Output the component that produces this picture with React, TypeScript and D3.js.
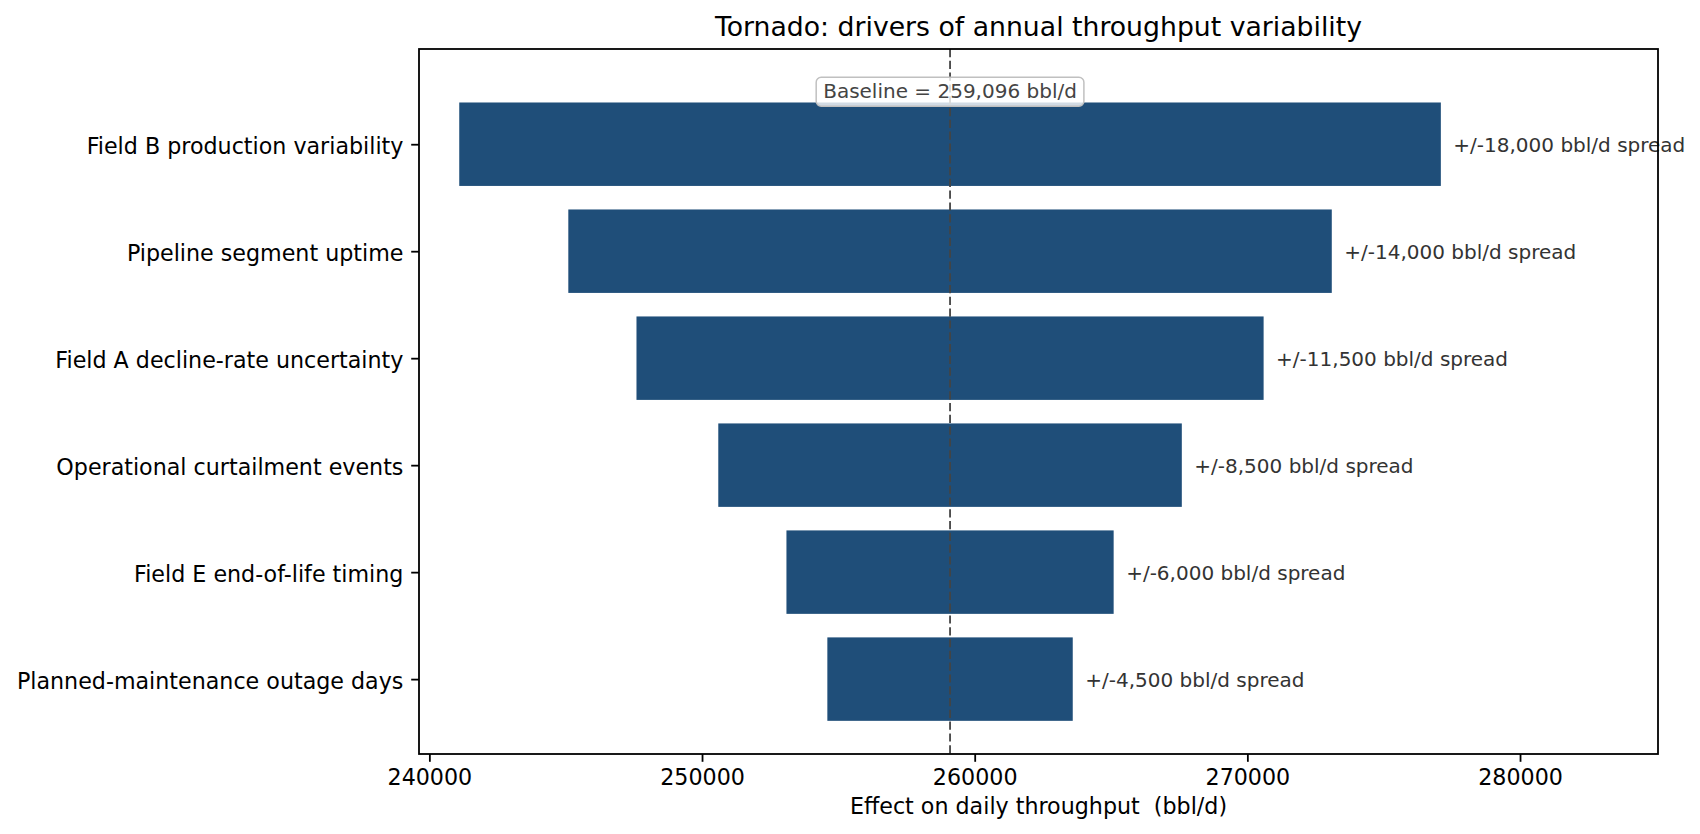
import React, { useEffect, useRef } from 'react';
import * as d3 from 'd3';

const drivers = [
  'Field B production variability',
  'Pipeline segment uptime',
  'Field A decline-rate uncertainty',
  'Operational curtailment events',
  'Field E end-of-life timing',
  'Planned-maintenance outage days',
];
const baseline = 259096;
const lowValues = [241096, 245096, 247596, 250596, 253096, 254596];
const highValues = [277096, 273096, 270596, 267596, 265096, 263596];
const spreads = [18000, 14000, 11500, 8500, 6000, 4500];
const xTicks = [240000, 250000, 260000, 270000, 280000];

const W = 1700;
const H = 834;
const FONT = '"DejaVu Sans", sans-serif';

const App: React.FC = () => {
  const svgRef = useRef<SVGSVGElement>(null);

  useEffect(() => {
    if (!svgRef.current) return;
    const svg = d3.select(svgRef.current);
    svg.selectAll('*').remove();

    const left = 419, right = 1658, top = 49, bottom = 754;

    const x = d3.scaleLinear().domain([239620, 285060]).range([left, right]);
    // rows 0..5 top to bottom, with extra room above for the baseline label
    const y = d3.scaleLinear().domain([-0.89, 5.7]).range([top, bottom]);
    const barH = y(0.78) - y(0);

    const data = drivers.map((name, i) => ({
      name, i, lo: lowValues[i], hi: highValues[i], spread: spreads[i],
    }));

    // Bars
    svg.append('g')
      .selectAll('rect')
      .data(data)
      .enter()
      .append('rect')
      .attr('x', d => x(d.lo))
      .attr('width', d => x(d.hi) - x(d.lo))
      .attr('y', d => y(d.i) - barH / 2)
      .attr('height', barH)
      .attr('fill', '#1f4e79');

    // Spread labels
    svg.append('g')
      .selectAll('text')
      .data(data)
      .enter()
      .append('text')
      .attr('x', d => x(d.hi) + 12.5)
      .attr('y', d => y(d.i) + 8)
      .attr('font-family', FONT)
      .attr('font-size', 20)
      .attr('fill', '#333333')
      .text(d => `+/-${d3.format(',')(d.spread)} bbl/d spread`);

    // Baseline dashed line
    svg.append('line')
      .attr('x1', x(baseline)).attr('x2', x(baseline))
      .attr('y1', top).attr('y2', bottom)
      .attr('stroke', '#444444')
      .attr('stroke-width', 1.8)
      .attr('stroke-dasharray', '8.2 3.6');

    // Baseline label box
    const by = y(-0.5) + 7.5;
    const label = svg.append('g');
    const bt = label.append('text')
      .attr('x', x(baseline))
      .attr('y', by)
      .attr('text-anchor', 'middle')
      .attr('font-family', FONT)
      .attr('font-size', 20)
      .attr('fill', '#444444')
      .text(`Baseline = ${d3.format(',')(baseline)} bbl/d`);
    const bb = (bt.node() as SVGTextElement).getBBox();
    label.insert('rect', 'text')
      .attr('x', bb.x - 7)
      .attr('width', bb.width + 14)
      .attr('y', by - 21)
      .attr('height', 29)
      .attr('rx', 5)
      .attr('fill', 'white')
      .attr('fill-opacity', 0.8)
      .attr('stroke', '#c0c0c0')
      .attr('stroke-width', 1.5);

    // Axes frame
    svg.append('rect')
      .attr('x', left).attr('y', top)
      .attr('width', right - left).attr('height', bottom - top)
      .attr('fill', 'none')
      .attr('stroke', '#000')
      .attr('stroke-width', 1.8);

    // X axis
    const xg = svg.append('g').attr('transform', `translate(0,${bottom})`);
    xg.call(d3.axisBottom(x).tickValues(xTicks).tickFormat(d3.format('d')).tickSize(7.8).tickPadding(7.8));
    xg.select('.domain').remove();
    xg.selectAll('line').attr('stroke', '#000').attr('stroke-width', 1.8);
    xg.selectAll('text')
      .attr('font-family', FONT)
      .attr('font-size', 22.2)
      .attr('fill', '#000');

    // Y axis
    const yg = svg.append('g').attr('transform', `translate(${left},0)`);
    yg.call(d3.axisLeft(y).tickValues(d3.range(drivers.length)).tickFormat(i => drivers[+i]).tickSize(7.8).tickPadding(7.8));
    yg.select('.domain').remove();
    yg.selectAll('line').attr('stroke', '#000').attr('stroke-width', 1.8);
    yg.selectAll('text')
      .attr('font-family', FONT)
      .attr('font-size', 22.2)
      .attr('dy', '0.42em')
      .attr('fill', '#000');

    // Title and x label
    svg.append('text')
      .attr('x', (left + right) / 2)
      .attr('y', 36)
      .attr('text-anchor', 'middle')
      .attr('font-family', FONT)
      .attr('font-size', 26.7)
      .attr('fill', '#000')
      .text('Tornado: drivers of annual throughput variability');

    svg.append('text')
      .attr('x', (left + right) / 2)
      .attr('y', 814)
      .attr('text-anchor', 'middle')
      .attr('font-family', FONT)
      .attr('font-size', 22.2)
      .attr('fill', '#000')
      .attr('xml:space', 'preserve')
      .style('white-space', 'pre')
      .text('Effect on daily throughput  (bbl/d)');
  }, []);

  return (
    <svg
      ref={svgRef}
      width={W}
      height={H}
      style={{ position: 'absolute', left: 0, top: 0, background: 'white' }}
    />
  );
};

export default App;
